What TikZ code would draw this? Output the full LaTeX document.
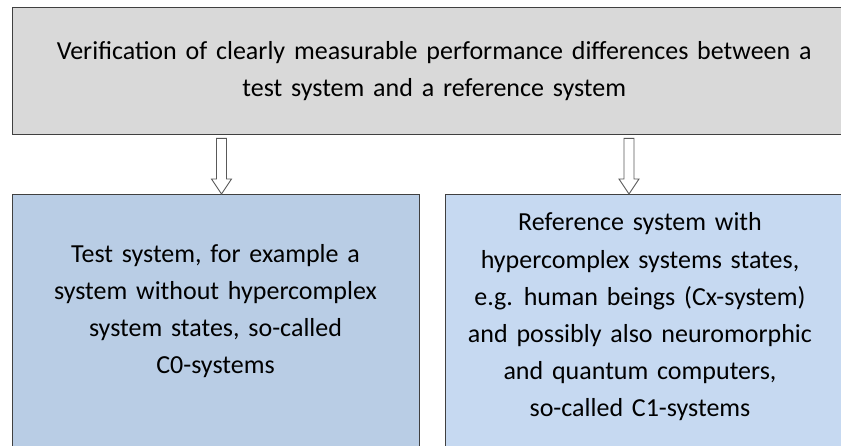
\documentclass[tikz,border=0pt]{standalone}
\usepackage{fontspec}
\setmainfont[WordSpace=1.5]{Carlito}
\usetikzlibrary{calc}
\definecolor{boxgray}{HTML}{D9D9D9}
\definecolor{testblue}{HTML}{B9CDE5}
\definecolor{refblue}{HTML}{C6D9F1}
\definecolor{edgegray}{HTML}{404040}
\definecolor{arrowgray}{HTML}{595959}

\begin{document}
\begin{tikzpicture}[x=1pt,y=-1pt,
	box/.style={draw=edgegray, line width=1.4pt, anchor=north west, inner sep=0pt},
	boxtext/.style={align=center, font=\fontsize{26}{37.2}\selectfont},
	arrowbody/.style={draw=arrowgray, line width=0.9pt, fill=white, line join=miter}]
	\def \shaft{ 5 };
	\def \head{ 10 };
	\def \tip{ 15 };
	\useasboundingbox (0,0) rectangle (841,445);
	\clip (0,0) rectangle (841,445);

	\node[box, boxtext, fill=boxgray, minimum width=843, minimum height=127] (verif) at (12,7) {Verification of clearly measurable performance differences between a\\test system and a reference system};
	\node[box, fill=testblue, minimum width=407, minimum height=270] (test) at (12,194) {};
	\node[box, fill=refblue, minimum width=410, minimum height=270] (ref) at (445,194) {};
	\node[boxtext] (testtext) at (215.5,311) {Test system, for example a\\system without hypercomplex\\system states, so-called\\C0-systems};
	\node[boxtext] (reftext) at (640,317) {Reference system with\\hypercomplex systems states,\\e.g. human beings (Cx-system)\\and possibly also neuromorphic\\and quantum computers,\\so-called C1-systems};

	\coordinate (lefttop) at (verif.south -| 221.5,0);
	\coordinate (leftend) at (test.north -| 221.5,0);
	\coordinate (righttop) at (verif.south -| 629,0);
	\coordinate (rightend) at (ref.north -| 629,0);

	\draw[arrowbody] ($(lefttop)+(-\shaft,3)$) -- ($(leftend)+(-\shaft,-\tip)$) -- ($(leftend)+(-\head,-\tip)$) -- (leftend) -- ($(leftend)+(\head,-\tip)$) -- ($(leftend)+(\shaft,-\tip)$) -- ($(lefttop)+(\shaft,3)$) -- cycle;
	\draw[arrowbody] ($(righttop)+(-\shaft,3)$) -- ($(rightend)+(-\shaft,-\tip)$) -- ($(rightend)+(-\head,-\tip)$) -- (rightend) -- ($(rightend)+(\head,-\tip)$) -- ($(rightend)+(\shaft,-\tip)$) -- ($(righttop)+(\shaft,3)$) -- cycle;
\end{tikzpicture}
\end{document}
